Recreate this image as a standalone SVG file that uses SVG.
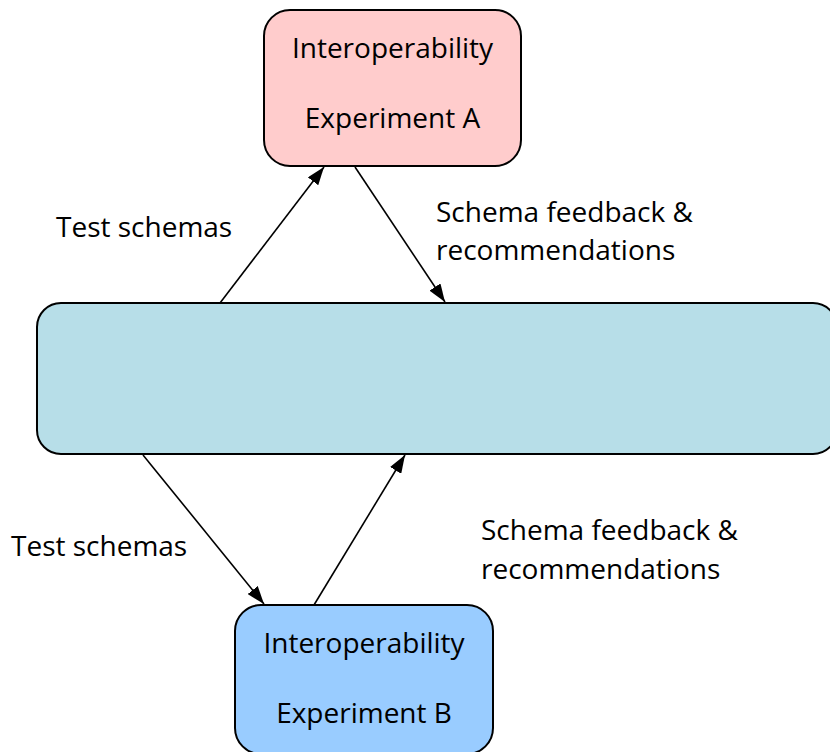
<svg xmlns="http://www.w3.org/2000/svg" width="830" height="752" viewBox="0 0 830 752">
<defs>
<marker id="arr" viewBox="0 0 10 10" refX="10" refY="5" markerWidth="18" markerHeight="13" markerUnits="userSpaceOnUse" orient="auto" preserveAspectRatio="none">
<path d="M0,0 L10,5 L0,10 z" fill="#000"/>
</marker>
<style>
.box{stroke:#000;stroke-width:2}
.t{font-family:"Open Sans","Noto Sans",sans-serif;font-size:28px;fill:#000}
.c{text-anchor:middle}
.con{stroke:#000;stroke-width:1.6;fill:none;marker-end:url(#arr)}
</style>
</defs>
<rect width="830" height="752" fill="#fff"/>
<g id="connectors">
<line class="con" x1="220" y1="303" x2="324" y2="167"/>
<line class="con" x1="355" y1="167" x2="445" y2="302"/>
<line class="con" x1="143" y1="455" x2="264" y2="604"/>
<line class="con" x1="314" y1="605" x2="405" y2="455"/>
</g>
<g id="expA">
<rect class="box" x="264" y="10" width="257" height="156" rx="26" fill="#FFCCCC"/>
<text class="t c" x="392.5" y="58">Interoperability</text>
<text class="t c" x="392.5" y="128">Experiment A</text>
</g>
<g id="center">
<rect class="box" x="37" y="303" width="800" height="151" rx="24" fill="#B7DEE8"/>
</g>
<g id="expB">
<rect class="box" x="235" y="605" width="258" height="149" rx="26" fill="#99CCFF"/>
<text class="t c" x="364" y="653">Interoperability</text>
<text class="t c" x="364" y="723">Experiment B</text>
</g>
<g id="labels">
<text class="t" x="56" y="237">Test schemas</text>
<text class="t" x="436" y="222">Schema feedback &amp;</text>
<text class="t" x="436" y="260">recommendations</text>
<text class="t" x="11" y="556">Test schemas</text>
<text class="t" x="481" y="540">Schema feedback &amp;</text>
<text class="t" x="481" y="579">recommendations</text>
</g>
</svg>
